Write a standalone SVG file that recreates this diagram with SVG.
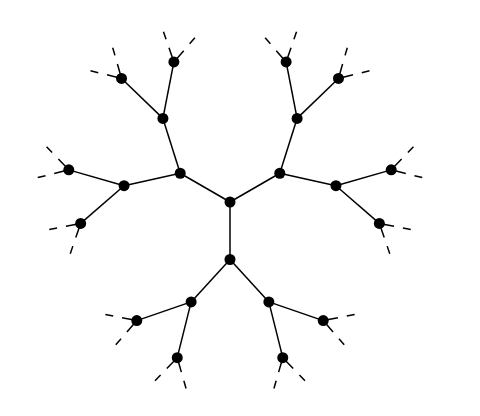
<svg xmlns="http://www.w3.org/2000/svg" width="480" height="416" viewBox="0 0 480 416">
<style>
.e{stroke:#000;stroke-width:1.5;fill:none}
.s{stroke:#000;stroke-width:1.5;fill:none;stroke-dasharray:15 9}
.n{fill:#000}
</style>
<rect width="480" height="416" fill="#fff"/>
<g id="connectors">
<line class="e" x1="230" y1="202" x2="230" y2="259.5"/>
<line class="e" x1="230" y1="202" x2="180.2" y2="173.25"/>
<line class="e" x1="230" y1="202" x2="279.8" y2="173.25"/>
<line class="e" x1="230" y1="259.5" x2="191.15" y2="301.89"/>
<line class="e" x1="230" y1="259.5" x2="268.85" y2="301.89"/>
<line class="e" x1="191.15" y1="301.89" x2="136.78" y2="320.61"/>
<line class="e" x1="191.15" y1="301.89" x2="177.24" y2="357.68"/>
<line class="e" x1="268.85" y1="301.89" x2="282.76" y2="357.68"/>
<line class="e" x1="268.85" y1="301.89" x2="323.22" y2="320.61"/>
<line class="e" x1="180.2" y1="173.25" x2="162.91" y2="118.41"/>
<line class="e" x1="180.2" y1="173.25" x2="124.06" y2="185.7"/>
<line class="e" x1="162.91" y1="118.41" x2="173.88" y2="61.97"/>
<line class="e" x1="162.91" y1="118.41" x2="121.55" y2="78.46"/>
<line class="e" x1="124.06" y1="185.7" x2="68.79" y2="169.85"/>
<line class="e" x1="124.06" y1="185.7" x2="80.66" y2="223.43"/>
<line class="e" x1="279.8" y1="173.25" x2="297.09" y2="118.41"/>
<line class="e" x1="279.8" y1="173.25" x2="335.94" y2="185.7"/>
<line class="e" x1="297.09" y1="118.41" x2="286.12" y2="61.97"/>
<line class="e" x1="297.09" y1="118.41" x2="338.45" y2="78.46"/>
<line class="e" x1="335.94" y1="185.7" x2="391.21" y2="169.85"/>
<line class="e" x1="335.94" y1="185.7" x2="379.34" y2="223.43"/>
<line class="s" x1="136.78" y1="320.61" x2="105.37" y2="314.5"/>
<line class="s" x1="136.78" y1="320.61" x2="115.78" y2="344.76"/>
<line class="s" x1="177.24" y1="357.68" x2="155.01" y2="380.7"/>
<line class="s" x1="177.24" y1="357.68" x2="186.06" y2="388.44"/>
<line class="s" x1="282.76" y1="357.68" x2="273.94" y2="388.44"/>
<line class="s" x1="282.76" y1="357.68" x2="304.99" y2="380.7"/>
<line class="s" x1="323.22" y1="320.61" x2="344.22" y2="344.76"/>
<line class="s" x1="323.22" y1="320.61" x2="354.63" y2="314.5"/>
<line class="s" x1="173.88" y1="61.97" x2="194.88" y2="37.82"/>
<line class="s" x1="173.88" y1="61.97" x2="163.46" y2="31.71"/>
<line class="s" x1="121.55" y1="78.46" x2="112.73" y2="47.7"/>
<line class="s" x1="121.55" y1="78.46" x2="90.5" y2="70.72"/>
<line class="s" x1="68.79" y1="169.85" x2="46.56" y2="146.83"/>
<line class="s" x1="68.79" y1="169.85" x2="37.74" y2="177.59"/>
<line class="s" x1="80.66" y1="223.43" x2="49.25" y2="229.54"/>
<line class="s" x1="80.66" y1="223.43" x2="70.24" y2="253.69"/>
<line class="s" x1="286.12" y1="61.97" x2="265.12" y2="37.82"/>
<line class="s" x1="286.12" y1="61.97" x2="296.54" y2="31.71"/>
<line class="s" x1="338.45" y1="78.46" x2="347.27" y2="47.7"/>
<line class="s" x1="338.45" y1="78.46" x2="369.5" y2="70.72"/>
<line class="s" x1="391.21" y1="169.85" x2="413.44" y2="146.83"/>
<line class="s" x1="391.21" y1="169.85" x2="422.26" y2="177.59"/>
<line class="s" x1="379.34" y1="223.43" x2="410.75" y2="229.54"/>
<line class="s" x1="379.34" y1="223.43" x2="389.76" y2="253.69"/>
</g>
<g id="n0"><circle class="n" cx="230" cy="202" r="5.5"/></g>
<g id="n1"><circle class="n" cx="230" cy="259.5" r="5.5"/></g>
<g id="n2"><circle class="n" cx="180.2" cy="173.25" r="5.5"/></g>
<g id="n3"><circle class="n" cx="279.8" cy="173.25" r="5.5"/></g>
<g id="n4"><circle class="n" cx="191.15" cy="301.89" r="5.5"/></g>
<g id="n5"><circle class="n" cx="268.85" cy="301.89" r="5.5"/></g>
<g id="n6"><circle class="n" cx="136.78" cy="320.61" r="5.5"/></g>
<g id="n7"><circle class="n" cx="177.24" cy="357.68" r="5.5"/></g>
<g id="n8"><circle class="n" cx="282.76" cy="357.68" r="5.5"/></g>
<g id="n9"><circle class="n" cx="323.22" cy="320.61" r="5.5"/></g>
<g id="n10"><circle class="n" cx="162.91" cy="118.41" r="5.5"/></g>
<g id="n11"><circle class="n" cx="124.06" cy="185.7" r="5.5"/></g>
<g id="n12"><circle class="n" cx="173.88" cy="61.97" r="5.5"/></g>
<g id="n13"><circle class="n" cx="121.55" cy="78.46" r="5.5"/></g>
<g id="n14"><circle class="n" cx="68.79" cy="169.85" r="5.5"/></g>
<g id="n15"><circle class="n" cx="80.66" cy="223.43" r="5.5"/></g>
<g id="n16"><circle class="n" cx="297.09" cy="118.41" r="5.5"/></g>
<g id="n17"><circle class="n" cx="335.94" cy="185.7" r="5.5"/></g>
<g id="n18"><circle class="n" cx="286.12" cy="61.97" r="5.5"/></g>
<g id="n19"><circle class="n" cx="338.45" cy="78.46" r="5.5"/></g>
<g id="n20"><circle class="n" cx="391.21" cy="169.85" r="5.5"/></g>
<g id="n21"><circle class="n" cx="379.34" cy="223.43" r="5.5"/></g>
</svg>
